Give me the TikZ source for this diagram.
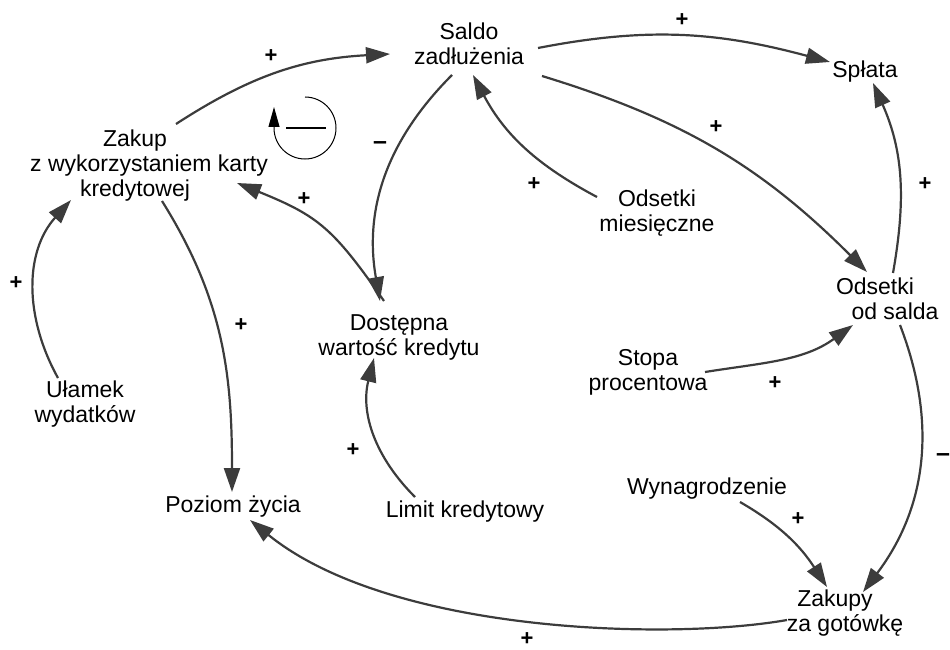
\documentclass[tikz,border=0pt]{standalone}
\usepackage{fontspec}
\setmainfont{Liberation Sans}
\usetikzlibrary{arrows.meta}
\definecolor{edge}{HTML}{3C3C3C}
\begin{document}
\begin{tikzpicture}[x=1pt,y=1pt,
  var/.style={align=center, inner sep=0pt, font=\fontsize{23}{25}\selectfont, text=black},
  link/.style={draw=edge, line width=2.2pt, -{Triangle[length=24pt,width=16pt]}},
  pol/.style={font=\fontsize{22}{22}\selectfont\bfseries, inner sep=0pt, text=black},
  neg/.style={font=\fontsize{25}{25}\selectfont\bfseries, inner sep=0pt, text=black}]
\useasboundingbox (0,0) rectangle (950,-650);
% variables
\node[var] (sal) at (469,-44) {Saldo\\zadłużenia};
\node[var] (spl) at (865,-72) {Spłata};
\node[var] (zak) at (135,-166) {Zakup\\\hspace*{28pt}z wykorzystaniem karty\\kredytowej};
\node[var] (odm) at (657,-213) {Odsetki\\miesięczne};
\node[var] (ods) at (885,-299) {Odsetki\hspace*{20pt}\mbox{}\\\hspace*{20pt}od salda};
\node[var] (dos) at (399,-337) {Dostępna\\wartość kredytu};
\node[var] (sto) at (648,-372) {Stopa\\procentowa};
\node[var] (ula) at (85,-404) {Ułamek\\wydatków};
\node[var] (poz) at (233,-507) {Poziom życia};
\node[var] (lim) at (465,-512) {Limit kredytowy};
\node[var] (wyn) at (707,-489) {Wynagrodzenie};
\node[var] (zkg) at (840,-613) {Zakupy\hspace*{10pt}\mbox{}\\\hspace*{10pt}za gotówkę};
% connectors
\draw[link] ([shift={(41,42)}]zak.center) to[out=33,in=183] ([shift={(-79,-10)}]sal.center);
\draw[link] ([shift={(69,-4)}]sal.center) to[out=11,in=165] ([shift={(-35,10)}]spl.center);
\draw[link] ([shift={(73,-32)}]sal.center) to[out=-17,in=135] ([shift={(-18,27)}]ods.center);
\draw[link] ([shift={(-60,16)}]odm.center) to[out=152,in=298] ([shift={(4,-31)}]sal.center);
\draw[link] ([shift={(-17,-31)}]sal.center) to[out=225,in=100] ([shift={(-19,36)}]dos.center);
\draw[link] ([shift={(-15,36)}]dos.center) to[out=125,in=338,looseness=1.2] ([shift={(102,-17)}]zak.center);
\draw[link] ([shift={(-27,26)}]ula.center) to[out=119,in=228] ([shift={(-64,-34)}]zak.center);
\draw[link] ([shift={(27,-35)}]zak.center) to[out=-58,in=90] ([shift={(-1,15)}]poz.center);
\draw[link] ([shift={(-50,15)}]lim.center) to[out=135,in=256] ([shift={(-25,-21)}]dos.center);
\draw[link] ([shift={(57,0)}]sto.center) to[out=9,in=216] ([shift={(-32,-26)}]ods.center);
\draw[link] ([shift={(8,26)}]ods.center) to[out=80,in=294] ([shift={(8,-11)}]spl.center);
\draw[link] ([shift={(15,-26)}]ods.center) to[out=-69,in=53] ([shift={(23,21)}]zkg.center);
\draw[link] ([shift={(33,-13)}]wyn.center) to[out=-30,in=123] ([shift={(-13,26)}]zkg.center);
\draw[link] ([shift={(-53,-7)}]zkg.center) to[out=190,in=321,out distance=120pt,in distance=180pt] ([shift={(17,-13)}]poz.center);
% polarities
\node[pol] (p1) at (271,-56) {+};
\node[pol] (p2) at (682,-20) {+};
\node[pol] (p3) at (716,-127) {+};
\node[pol] (p4) at (534,-184) {+};
\node[neg] (p5) at (380,-146) {–};
\node[pol] (p6) at (304,-199) {+};
\node[pol] (p7) at (16,-283) {+};
\node[pol] (p8) at (241,-325) {+};
\node[pol] (p9) at (353,-450) {+};
\node[pol] (p10) at (775,-383) {+};
\node[pol] (p11) at (925,-184) {+};
\node[neg] (p12) at (943,-458) {–};
\node[pol] (p13) at (798,-519) {+};
\node[pol] (p14) at (527,-639) {+};
% loop symbol
\coordinate (lc) at (305,-128);
\draw[line width=1pt, -{Triangle[length=20pt,width=11pt]}] ([shift={(0,31)}]lc) arc[start angle=90,end angle=-180,radius=31] -- ++(0,21);
\draw[line width=2pt] ([shift={(-19,0)}]lc) -- ([shift={(21,0)}]lc);
\end{tikzpicture}
\end{document}
